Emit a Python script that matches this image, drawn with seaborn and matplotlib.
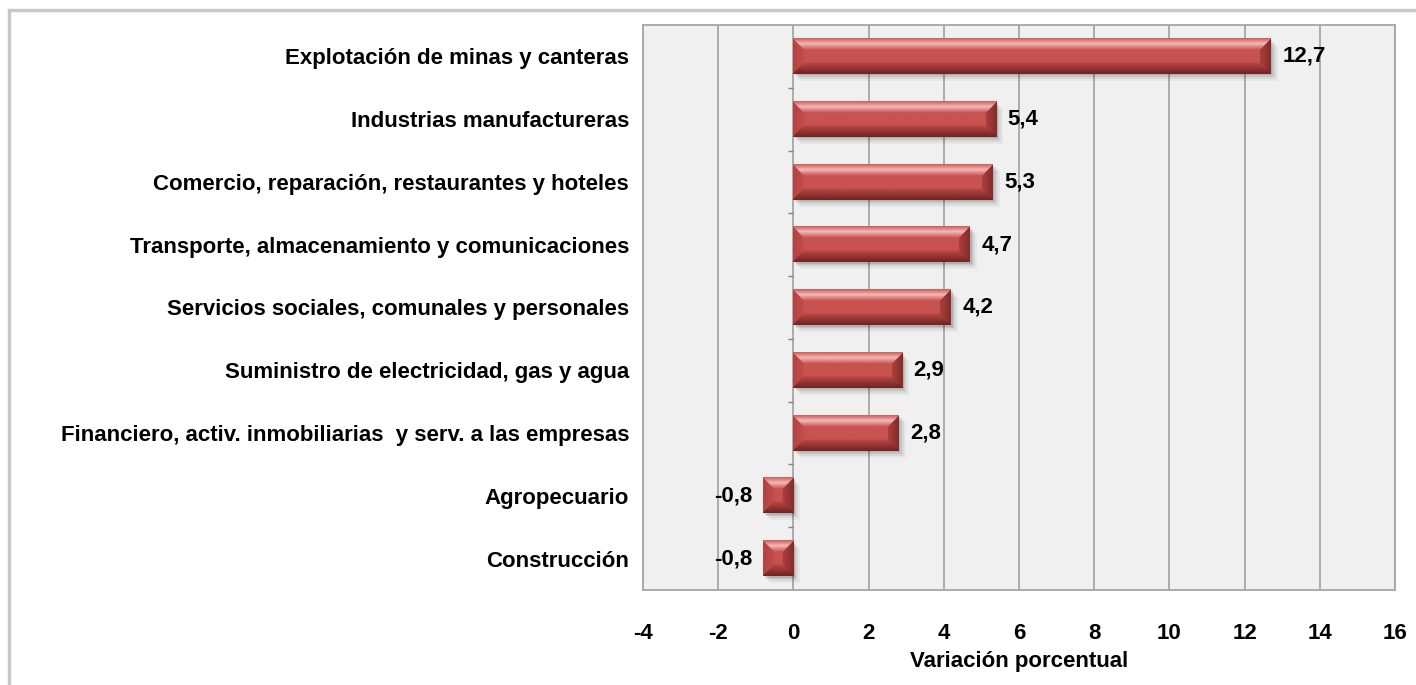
import numpy as np
import pandas as pd
import matplotlib
matplotlib.use("Agg")
import matplotlib.pyplot as plt
import seaborn as sns
from matplotlib.patches import Rectangle

# data
sectores = [
    "Explotación de minas y canteras",
    "Industrias manufactureras",
    "Comercio, reparación, restaurantes y hoteles",
    "Transporte, almacenamiento y comunicaciones",
    "Servicios sociales, comunales y personales",
    "Suministro de electricidad, gas y agua",
    "Financiero, activ. inmobiliarias  y serv. a las empresas",
    "Agropecuario",
    "Construcción",
]
variacion = [12.7, 5.4, 5.3, 4.7, 4.2, 2.9, 2.8, -0.8, -0.8]
xticks = [-4, -2, 0, 2, 4, 6, 8, 10, 12, 14, 16]

df = pd.DataFrame({"sector": sectores, "valor": variacion})

sns.set_theme(style="white")
plt.rcParams["font.family"] = ["Liberation Sans", "DejaVu Sans"]
plt.rcParams["font.weight"] = "bold"
plt.rcParams["text.color"] = "black"
plt.rcParams["xtick.color"] = "black"
plt.rcParams["ytick.color"] = "black"
plt.rcParams["axes.labelcolor"] = "black"

FS = 16

fig = plt.figure(figsize=(14.16, 6.85), dpi=100)
ax = fig.add_axes([643 / 1416, 1 - 590 / 685, 752 / 1416, 565 / 685])
ax.set_facecolor("#F0F0F0")

sns.barplot(data=df, x="valor", y="sector", orient="h", width=0.56,
            color="#C0504D", ax=ax, zorder=3)

ax.set_xlim(-4, 16)
ax.set_ylim(len(sectores) - 0.5, -0.5)
ax.set_xticks(xticks)
ax.set_xticklabels([str(t) for t in xticks], fontsize=FS, fontweight="bold")
ax.tick_params(axis="x", length=6, width=1.2, color="#A6A6A6", direction="out",
               pad=18, labelcolor="black")
ax.tick_params(axis="y", length=0, pad=10, labelcolor="black")
for lab in ax.get_yticklabels():
    lab.set_fontsize(FS)
    lab.set_fontweight("bold")
ax.set_ylabel("")
ax.set_xlabel("Variación porcentual", fontsize=FS, fontweight="bold", labelpad=5,
              color="black")

ax.grid(axis="x", color="#A6A6A6", lw=1.3, zorder=0)
ax.set_axisbelow(True)
for sp in ax.spines.values():
    sp.set_color("#A6A6A6")
    sp.set_linewidth(1.3)

# category ticks on the zero axis
bounds = np.arange(len(sectores) - 1) + 0.5
ax.hlines(bounds, -0.15, 0, color="#808080", lw=1, zorder=2)


def lerp(stops, t):
    # stops: list of (pos, rgb); t: array in [0, 1]
    pos = np.array([s[0] for s in stops])
    cols = np.array([s[1] for s in stops])
    out = np.stack([np.interp(t, pos, cols[:, c]) for c in range(3)], axis=-1)
    return out


def hexrgb(h):
    h = h.lstrip("#")
    return np.array([int(h[i:i + 2], 16) / 255 for i in (0, 2, 4)])


# bevelled look for each bar
def bevel_image(w_px, h_px, b=11):
    face = hexrgb("#C8524F")
    img = np.zeros((h_px, w_px, 3))
    img[:] = face
    yy, xx = np.mgrid[0:h_px, 0:w_px]
    dt, db = yy.astype(float), (h_px - 1 - yy).astype(float)
    dl, dr = xx.astype(float), (w_px - 1 - xx).astype(float)
    m = np.minimum(np.minimum(dt, db), np.minimum(dl, dr))

    top = (dt == m) & (dt < b)
    ctop = lerp([(0, hexrgb("#CF6361")), (0.45, hexrgb("#F4B8B6")), (1, face)],
                np.clip(dt / b, 0, 1))
    img[top] = ctop[top]

    bot = (db == m) & (db < b) & ~top
    cbot = lerp([(0, hexrgb("#742523")), (0.5, hexrgb("#963633")), (1, hexrgb("#BC4946"))],
                np.clip(db / b, 0, 1))
    img[bot] = cbot[bot]

    left = (dl == m) & (dl < b) & ~top & ~bot
    cleft = lerp([(0, hexrgb("#B34441")), (1, hexrgb("#C24E4B"))], np.clip(dl / b, 0, 1))
    img[left] = cleft[left]

    right = (dr == m) & (dr < b) & ~top & ~bot & ~left
    cright = lerp([(0, hexrgb("#842D2B")), (1, hexrgb("#AE403D"))], np.clip(dr / b, 0, 1))
    img[right] = cright[right]
    return img


px_per_unit = 752 / 20
px_per_cat = 565 / len(sectores)
for p in list(ax.patches):
    x0, y0 = p.get_x(), p.get_y()
    w, h = p.get_width(), p.get_height()
    xa, xb = min(x0, x0 + w), max(x0, x0 + w)
    ya, yb = min(y0, y0 + h), max(y0, y0 + h)
    # soft shadow
    for k, a in [(7, 0.04), (5, 0.06), (3, 0.09), (1.5, 0.1)]:
        ax.add_patch(Rectangle((xa + k / px_per_unit, ya + k / px_per_cat), xb - xa, yb - ya,
                               color="black", alpha=a, lw=0, zorder=2.5))
    wp = max(int(round((xb - xa) * px_per_unit)), 4)
    hp = max(int(round((yb - ya) * px_per_cat)), 4)
    img = bevel_image(wp, hp)
    ax.imshow(img, extent=[xa, xb, yb, ya], aspect="auto", zorder=4,
              interpolation="bilinear")
    p.set_visible(False)

ax.set_xlim(-4, 16)
ax.set_ylim(len(sectores) - 0.5, -0.5)

# value labels
for i, v in enumerate(variacion):
    txt = f"{v:.1f}".replace(".", ",")
    if v >= 0:
        ax.text(v + 0.3, i, txt, va="center", ha="left", fontsize=FS,
                fontweight="bold", color="black", zorder=5)
    else:
        ax.text(v - 0.3, i, txt, va="center", ha="right", fontsize=FS,
                fontweight="bold", color="black", zorder=5)

# outer chart frame
fig.patches.append(Rectangle((9 / 1416, -0.05), 1.1, 1 - 10 / 685 + 0.05,
                             transform=fig.transFigure, fill=False,
                             edgecolor="#C8C8C8", lw=2.5))

fig.savefig("out.png", dpi=100)
